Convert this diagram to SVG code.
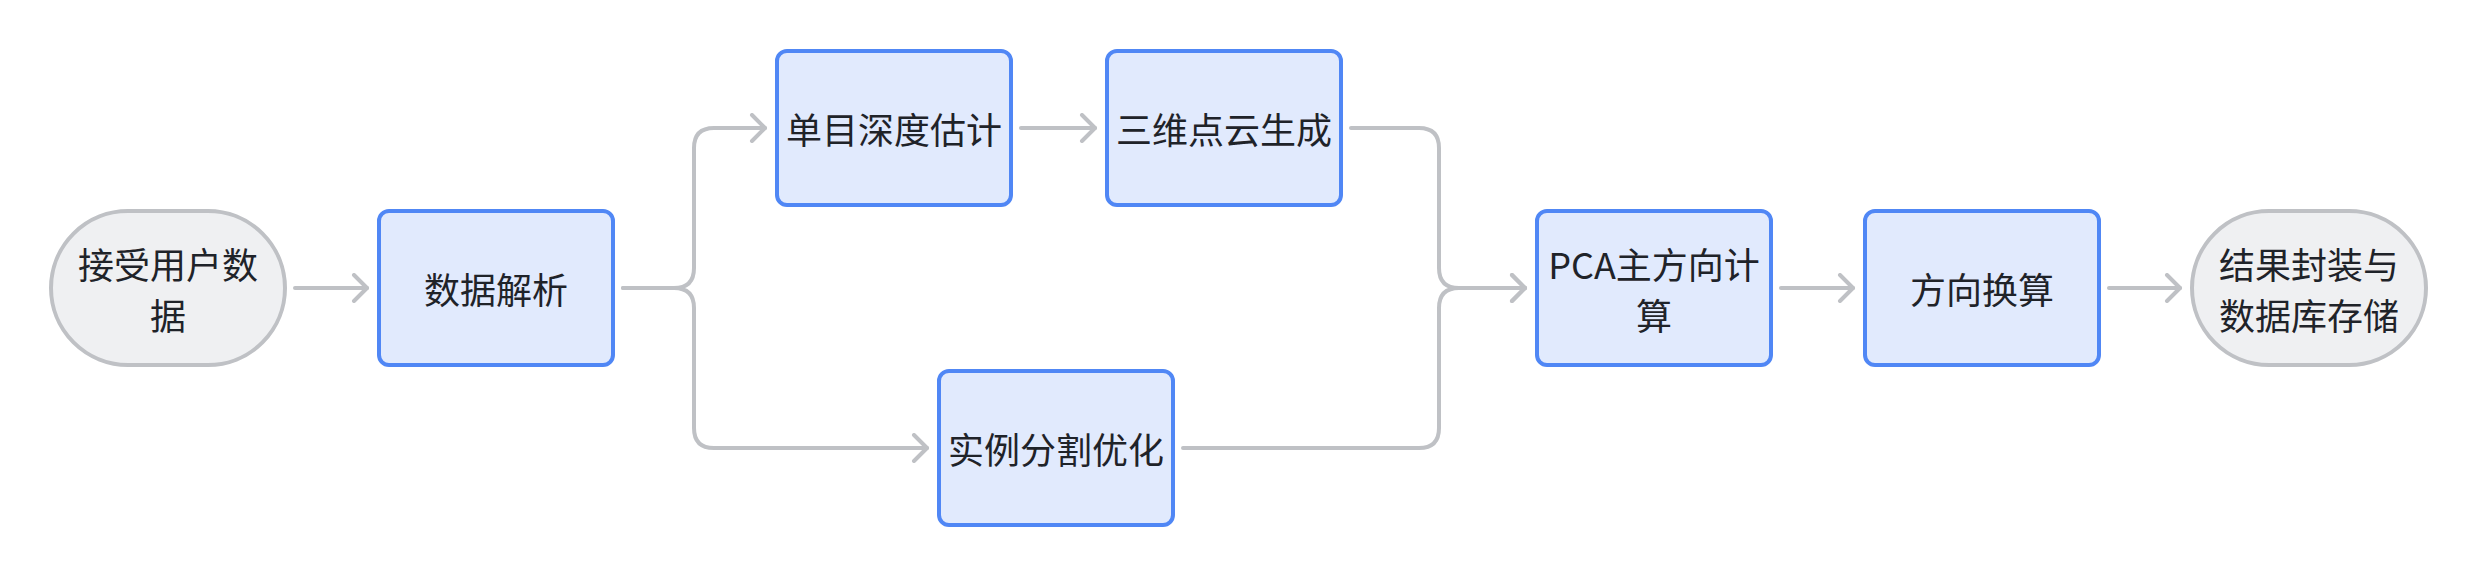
<svg xmlns="http://www.w3.org/2000/svg" width="2478" height="576" viewBox="0 0 2478 576">
<style>
.box{fill:#e1eafd;stroke:#5087f5;stroke-width:4}
.term{fill:#eff0f2;stroke:#bfc1c5;stroke-width:4}
.lbl{font-family:"Noto Sans CJK SC","Noto Sans",sans-serif;font-size:36px;fill:#1f2329;text-anchor:middle}
.edge{fill:none;stroke:#bfc1c5;stroke-width:4;stroke-linecap:round;stroke-linejoin:round}
</style>
<defs>
<marker id="arr" viewBox="0 0 20 30" refX="16" refY="15" markerWidth="20" markerHeight="30" markerUnits="userSpaceOnUse" orient="auto">
<path d="M3,2 L16,15 L3,28" fill="none" stroke="#bfc1c5" stroke-width="4" stroke-linecap="round" stroke-linejoin="round"/>
</marker>
</defs>
<rect width="2478" height="576" fill="#ffffff"/>
<g id="connectors">
<path class="edge" d="M295,288 H367" marker-end="url(#arr)"/>
<path class="edge" d="M623,288 H674 Q694,288 694,268 V148 Q694,128 714,128 H765" marker-end="url(#arr)"/>
<path class="edge" d="M623,288 H674 Q694,288 694,308 V428 Q694,448 714,448 H927" marker-end="url(#arr)"/>
<path class="edge" d="M1021,128 H1095" marker-end="url(#arr)"/>
<path class="edge" d="M1351,128 H1419 Q1439,128 1439,148 V268 Q1439,288 1459,288 H1525" marker-end="url(#arr)"/>
<path class="edge" d="M1183,448 H1419 Q1439,448 1439,428 V308 Q1439,288 1459,288 H1525" marker-end="url(#arr)"/>
<path class="edge" d="M1781,288 H1853" marker-end="url(#arr)"/>
<path class="edge" d="M2109,288 H2180" marker-end="url(#arr)"/>
</g>
<g id="n1">
<rect class="term" x="51" y="211" width="234" height="154" rx="77" ry="77"/>
<text class="lbl" x="168" y="279">接受用户数</text>
<text class="lbl" x="168" y="330">据</text>
</g>
<g id="n2">
<rect class="box" x="379" y="211" width="234" height="154" rx="10" ry="10"/>
<text class="lbl" x="496" y="304">数据解析</text>
</g>
<g id="n3">
<rect class="box" x="777" y="51" width="234" height="154" rx="10" ry="10"/>
<text class="lbl" x="894" y="144">单目深度估计</text>
</g>
<g id="n4">
<rect class="box" x="1107" y="51" width="234" height="154" rx="10" ry="10"/>
<text class="lbl" x="1224" y="144">三维点云生成</text>
</g>
<g id="n5">
<rect class="box" x="939" y="371" width="234" height="154" rx="10" ry="10"/>
<text class="lbl" x="1056" y="464">实例分割优化</text>
</g>
<g id="n6">
<rect class="box" x="1537" y="211" width="234" height="154" rx="10" ry="10"/>
<text class="lbl" x="1654" y="279">PCA主方向计</text>
<text class="lbl" x="1654" y="330">算</text>
</g>
<g id="n7">
<rect class="box" x="1865" y="211" width="234" height="154" rx="10" ry="10"/>
<text class="lbl" x="1982" y="304">方向换算</text>
</g>
<g id="n8">
<rect class="term" x="2192" y="211" width="234" height="154" rx="77" ry="77"/>
<text class="lbl" x="2309" y="279">结果封装与</text>
<text class="lbl" x="2309" y="330">数据库存储</text>
</g>
</svg>
